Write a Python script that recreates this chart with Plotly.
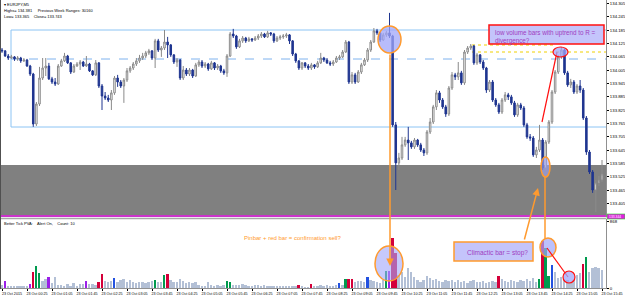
import plotly.graph_objects as go

# ---------------- data ----------------
bar_index = list(range(193))
first_open = 134.095
closes = [
    134.091, 134.068, 134.059, 134.064, 134.055, 134.059, 134.046, 134.050, 134.023, 133.987,
    133.762, 133.852, 133.969, 134.014, 134.023, 133.965, 133.951, 133.942, 134.023, 134.046,
    134.068, 134.037, 133.996, 134.023, 134.032, 134.041, 134.023, 134.032, 134.001, 133.983,
    134.037, 133.933, 133.888, 133.879, 133.870, 133.902, 133.969, 133.951, 133.933, 133.960,
    134.001, 134.014, 134.032, 134.046, 134.059, 134.068, 134.082, 134.091, 134.059, 134.136,
    134.095, 134.104, 134.131, 134.118, 134.073, 134.041, 134.050, 133.969, 134.005, 133.987,
    134.005, 133.978, 134.028, 134.041, 134.023, 134.032, 134.010, 134.037, 134.014, 134.023,
    134.001, 133.992, 134.068, 134.167, 134.158, 134.109, 134.136, 134.149, 134.136, 134.145,
    134.140, 134.149, 134.158, 134.167, 134.154, 134.172, 134.167, 134.136, 134.149, 134.154,
    134.158, 134.163, 134.136, 134.077, 134.046, 134.014, 134.037, 134.023, 134.014, 134.028,
    134.019, 134.037, 134.059, 134.050, 134.037, 134.032, 134.041, 134.059, 134.064, 134.086,
    134.131, 133.951, 133.983, 133.951, 133.996, 134.028, 134.050, 134.095, 134.131, 134.181,
    134.172, 134.140, 134.163, 134.172, 134.158, 133.758, 133.587, 133.609, 133.668, 133.690,
    133.677, 133.659, 133.690, 133.668, 133.645, 133.632, 133.726, 133.771, 133.839, 133.902,
    133.870, 133.839, 133.807, 133.924, 133.983, 133.974, 133.992, 133.947, 134.086, 134.104,
    134.113, 134.037, 134.073, 134.041, 134.014, 133.915, 133.951, 133.870, 133.848, 133.816,
    133.870, 133.893, 133.884, 133.857, 133.803, 133.848, 133.834, 133.758, 133.704, 133.699,
    133.623, 133.645, 133.690, 133.564, 133.681, 133.771, 133.906, 133.996, 134.064, 134.095,
    133.992, 133.938, 133.951, 133.906, 133.933, 133.915, 133.789, 133.636, 133.546, 133.465,
    133.497, 133.510, 133.537,
]
highs = [
    134.104, 134.095, 134.077, 134.073, 134.068, 134.068, 134.064, 134.059, 134.055, 134.028,
    133.992, 133.861, 134.019, 134.059, 134.059, 134.037, 133.974, 133.969, 134.032, 134.055,
    134.082, 134.073, 134.041, 134.032, 134.041, 134.050, 134.046, 134.068, 134.037, 134.005,
    134.050, 134.041, 133.942, 133.906, 133.893, 133.915, 133.978, 133.983, 133.960, 133.969,
    134.014, 134.023, 134.041, 134.059, 134.073, 134.082, 134.091, 134.100, 134.095, 134.145,
    134.145, 134.113, 134.185, 134.154, 134.122, 134.077, 134.059, 134.055, 134.023, 134.014,
    134.014, 134.010, 134.037, 134.050, 134.050, 134.041, 134.037, 134.046, 134.041, 134.032,
    134.028, 134.010, 134.077, 134.176, 134.190, 134.163, 134.145, 134.158, 134.154, 134.154,
    134.149, 134.158, 134.167, 134.176, 134.172, 134.181, 134.176, 134.172, 134.158, 134.163,
    134.167, 134.172, 134.167, 134.140, 134.082, 134.050, 134.041, 134.041, 134.032, 134.037,
    134.032, 134.046, 134.082, 134.064, 134.059, 134.046, 134.050, 134.068, 134.073, 134.095,
    134.140, 134.136, 133.996, 133.992, 134.005, 134.037, 134.059, 134.104, 134.140, 134.194,
    134.190, 134.176, 134.172, 134.181, 134.262, 134.163, 133.771, 133.632, 133.704, 133.704,
    133.749, 133.686, 133.699, 133.695, 133.677, 133.654, 133.735, 133.789, 133.848, 133.915,
    133.911, 133.879, 133.848, 133.933, 133.996, 133.992, 134.041, 134.001, 134.095, 134.113,
    134.122, 134.118, 134.082, 134.077, 134.050, 134.019, 133.960, 133.960, 133.879, 133.857,
    133.879, 133.906, 133.902, 133.893, 133.866, 133.857, 133.857, 133.843, 133.767, 133.717,
    133.708, 133.659, 133.758, 133.699, 133.690, 133.780, 133.915, 134.005, 134.073, 134.109,
    134.100, 134.001, 133.965, 133.960, 133.942, 133.960, 133.924, 133.798, 133.645, 133.555,
    133.510, 133.528, 133.600,
]
lows = [
    134.082, 134.064, 134.050, 134.055, 134.046, 134.046, 134.037, 134.041, 134.019, 133.978,
    133.749, 133.753, 133.843, 133.960, 133.978, 133.960, 133.942, 133.933, 133.938, 134.019,
    134.041, 134.032, 133.987, 133.992, 134.019, 134.005, 134.019, 134.019, 133.996, 133.978,
    133.978, 133.924, 133.825, 133.870, 133.861, 133.825, 133.893, 133.929, 133.924, 133.857,
    133.951, 133.992, 134.005, 134.023, 134.037, 134.050, 134.059, 134.073, 134.050, 134.014,
    134.086, 134.064, 134.095, 134.059, 134.064, 134.032, 134.019, 133.960, 133.960, 133.978,
    133.978, 133.969, 133.974, 134.019, 134.014, 134.014, 134.001, 134.005, 134.005, 134.005,
    133.992, 133.983, 133.974, 134.064, 134.149, 134.100, 134.104, 134.127, 134.127, 134.131,
    134.131, 134.136, 134.140, 134.149, 134.149, 134.149, 134.158, 134.127, 134.131, 134.140,
    134.145, 134.149, 134.122, 134.068, 134.037, 134.005, 134.005, 134.014, 134.005, 134.005,
    134.010, 134.014, 134.032, 134.041, 134.032, 134.023, 134.023, 134.037, 134.050, 134.059,
    134.082, 133.942, 133.942, 133.942, 133.947, 133.987, 134.023, 134.041, 134.086, 134.127,
    134.163, 134.131, 134.136, 134.154, 134.149, 133.749, 133.465, 133.555, 133.600, 133.659,
    133.600, 133.650, 133.650, 133.659, 133.636, 133.618, 133.623, 133.717, 133.762, 133.825,
    133.857, 133.830, 133.794, 133.798, 133.915, 133.960, 133.960, 133.938, 133.938, 134.077,
    134.095, 134.028, 134.028, 134.032, 134.005, 133.902, 133.906, 133.861, 133.839, 133.807,
    133.807, 133.861, 133.870, 133.848, 133.794, 133.794, 133.825, 133.749, 133.695, 133.686,
    133.614, 133.609, 133.636, 133.555, 133.555, 133.672, 133.762, 133.897, 133.987, 134.055,
    133.983, 133.929, 133.924, 133.897, 133.897, 133.902, 133.780, 133.623, 133.537, 133.452,
    133.366, 133.483, 133.501,
]
opens = [first_open] + closes[:-1]

volumes = [
    40, 95, 20, 15, 30, 20, 15, 20, 25, 56,
    205, 290, 195, 95, 115, 150, 70, 145, 45, 45,
    20, 55, 30, 70, 20, 55, 55, 95, 55, 55,
    45, 75, 185, 95, 75, 95, 130, 75, 105, 115,
    85, 100, 75, 65, 75, 85, 65, 75, 95, 110,
    85, 75, 175, 185, 105, 85, 75, 120, 95, 65,
    75, 65, 75, 45, 25, 25, 85, 45, 30, 45,
    30, 40, 90, 80, 45, 45, 45, 55, 45, 30,
    30, 45, 45, 30, 45, 30, 20, 25, 30, 15,
    20, 25, 15, 30, 15, 40, 20, 10, 10, 56,
    25, 30, 45, 30, 40, 30, 25, 35, 65, 45,
    120, 120, 120, 80, 95, 90, 85, 150, 108, 95,
    80, 70, 110, 225, 225, 660, 455, 175, 215, 150,
    260, 215, 150, 110, 85, 100, 160, 130, 110, 120,
    95, 80, 105, 90, 110, 75, 100, 85, 95, 70,
    90, 100, 75, 85, 95, 70, 80, 95, 85, 160,
    115, 90, 85, 110, 95, 80, 105, 90, 120, 95,
    130, 85, 120, 610, 520, 160, 300, 215, 130, 150,
    100, 110, 85, 110, 175, 195, 320, 400, 205, 260,
    280, 260, 240,
]
volume_class = "".join([
    "gPgggggggP", "RGGggPgggg", "gggggggPgg", "gRRgggBggg", "gggggggggG",
    "ggGRgggggg", "gggggggggg", "ggGGgggggg", "gggggggggg", "gggggRgggR",
    "ggggggggBg", "GRRggggBgg", "gggGPRRggg", "gggggggggg", "gggggggggg",
    "gggggggggR", "gggggggggg", "ggGRGGBggg", "ggggggRGgg", "ggg",
])
time_ticks = ["23 Oct 2015", "23 Oct 00:25", "23 Oct 01:05", "23 Oct 01:45", "23 Oct 02:25",
              "23 Oct 03:05", "23 Oct 03:45", "23 Oct 04:25", "23 Oct 05:05", "23 Oct 05:45",
              "23 Oct 06:25", "23 Oct 07:05", "23 Oct 07:45", "23 Oct 08:25", "23 Oct 09:05",
              "23 Oct 09:45", "23 Oct 10:25", "23 Oct 11:05", "23 Oct 11:45", "23 Oct 12:25",
              "23 Oct 13:05", "23 Oct 13:45", "23 Oct 14:25", "23 Oct 15:05", "23 Oct 15:45"]
price_ticks = [133.405, 133.465, 133.525, 133.585, 133.645, 133.705, 133.765, 133.825,
               133.885, 133.945, 134.005, 134.065, 134.125, 134.185, 134.245, 134.305]
volume_ticks = [0, 868]

# ---------------- layout helpers ----------------
W, H = 625, 296
PLOT_R = 606


def px(x):
    return x / W


def py(y):
    return 1 - y / H


class_colors = {"g": "#b3c0d6", "G": "#009a4e", "R": "#d4003a", "P": "#9b1fe8", "B": "#2251e0"}
bar_colors = [class_colors[c] for c in volume_class]

fig = go.Figure()
fig.add_trace(go.Candlestick(
    x=bar_index, open=opens, high=highs, low=lows, close=closes,
    increasing=dict(fillcolor="#ffffff", line=dict(color="#8a8a8a", width=1)),
    decreasing=dict(fillcolor="#1f3590", line=dict(color="#1f3590", width=1)),
    whiskerwidth=0, showlegend=False, hoverinfo="skip", xaxis="x", yaxis="y",
))
fig.add_trace(go.Bar(
    x=bar_index, y=volumes, marker=dict(color=bar_colors, line=dict(width=0)),
    width=0.62, showlegend=False, hoverinfo="skip", xaxis="x2", yaxis="y2",
))

shapes = []


def add_rect(x0, y0, x1, y1, layer="above", **kw):
    shapes.append(dict(type="rect", xref="paper", yref="paper", x0=px(x0), x1=px(x1),
                       y0=py(y1), y1=py(y0), layer=layer, **kw))


def add_ellipse(x0, y0, x1, y1, **kw):
    shapes.append(dict(type="circle", xref="paper", yref="paper", x0=px(x0), x1=px(x1),
                       y0=py(y1), y1=py(y0), layer="above", **kw))


def add_line(x0, y0, x1, y1, layer="above", **kw):
    shapes.append(dict(type="line", xref="paper", yref="paper", x0=px(x0), x1=px(x1),
                       y0=py(y0), y1=py(y1), layer=layer, **kw))


# zones & levels
add_rect(0, 165, PLOT_R, 215, layer="below", fillcolor="#808080", line=dict(width=0))
add_line(0, 216, PLOT_R, 216, line=dict(color="#cc33cc", width=2))
add_line(0, 218.5, PLOT_R, 218.5, line=dict(color="#a8a8a8", width=1.5))
add_line(11, 30, PLOT_R, 30, layer="below", line=dict(color="#8cc4f4", width=1))
add_line(11, 127, PLOT_R, 127, layer="below", line=dict(color="#8cc4f4", width=1))
add_line(11, 30, 11, 127, layer="below", line=dict(color="#8cc4f4", width=1))
add_line(11, 59, PLOT_R, 59, layer="below", line=dict(color="#7fb2ee", width=1, dash="dash"))
add_line(472, 45, 555, 45, layer="below", line=dict(color="#f0d000", width=1, dash="dot"))
add_line(472, 52, PLOT_R, 52, layer="below", line=dict(color="#f0d000", width=1, dash="dot"))
add_line(0.5, 0, 0.5, 289, line=dict(color="#505050", width=1))

lav = "rgba(160,165,250,0.75)"
orange = "#ff9a2e"
# orange marks
add_ellipse(378, 26, 401, 53, fillcolor=lav, line=dict(color=orange, width=1.5))
add_ellipse(375, 246, 403, 281, fillcolor="rgba(160,165,250,0.6)", line=dict(color=orange, width=1.5))
add_ellipse(541, 157, 550, 177, fillcolor="rgba(160,165,250,0.6)", line=dict(color=orange, width=1.5))
add_line(545, 177, 545, 238, line=dict(color=orange, width=1.5))
add_ellipse(540, 238, 556, 257, fillcolor="rgba(160,165,250,0.7)", line=dict(color=orange, width=1.5))
add_rect(454, 242, 533, 261, fillcolor="#c4c4fb", line=dict(color=orange, width=1.5))
# red marks
add_line(542, 122, 557, 52, line=dict(color="#ff1010", width=1.2))
add_ellipse(553, 47, 568, 57, fillcolor=lav, line=dict(color="#ff1010", width=1.2))
add_rect(489, 25, 604, 44, fillcolor="#c4c4fb", line=dict(color="#ff1010", width=1.5))
add_line(547, 248, 568, 277, line=dict(color="#ff1010", width=1.2))
add_ellipse(563, 271, 575, 283, fillcolor=lav, line=dict(color="#ff1010", width=1.2))
# magenta price tag on axis
add_rect(607, 214, 625, 219, fillcolor="#e020e0", line=dict(color="#20e020", width=0.6))

purple = "#a03cc0"
small = dict(family="Liberation Sans", size=4, color="#000000")
annotations = [
    dict(x=px(3), y=py(1), text="▾ EURJPY,M5", font=small),
    dict(x=px(3), y=py(7), text="Highs= 134.381     Previous Week Ranges: 30160", font=small),
    dict(x=px(3), y=py(13), text="Low= 133.365    Close= 133.743", font=small),
    dict(x=px(3), y=py(220), text="Better Tick PVA:    Alert On,    Count: 10", font=small),
    dict(x=px(243), y=py(234), text="Pinbar + red bar = confirmation sell?",
         font=dict(family="Liberation Sans", size=6, color=orange)),
    dict(x=px(466), y=py(248), text="Climactic bar = stop?",
         font=dict(family="Liberation Sans", size=6.5, color=purple)),
    dict(x=px(494), y=py(28), text="low volume bars with uptrend to R =<br>divergence?",
         font=dict(family="Liberation Sans", size=6.3, color=purple)),
]
for a in annotations:
    a.update(xref="paper", yref="paper", xanchor="left", yanchor="top", showarrow=False,
             align="left", borderpad=0)
annotations.append(dict(xref="paper", yref="paper", x=px(608), y=py(216.5), text="133.344",
                        xanchor="left", yanchor="middle", showarrow=False, borderpad=0,
                        font=dict(family="Liberation Sans", size=3.4, color="#ffffff")))

# arrows (head position, tail offset in pixels)
annotations.append(dict(xref="paper", yref="paper", x=px(390), y=py(266), ax=0, ay=-213,
                        showarrow=True, arrowhead=2, arrowsize=1, arrowwidth=1.5,
                        arrowcolor=orange, text=""))
annotations.append(dict(xref="paper", yref="paper", x=px(538), y=py(188), ax=-14, ay=53,
                        showarrow=True, arrowhead=2, arrowsize=1, arrowwidth=1.5,
                        arrowcolor=orange, text=""))

x_lo = -0.64
x_hi = (PLOT_R - 2) / 3.125
axfont = dict(family="Liberation Sans", size=4.3, color="#000000")
xfont = dict(family="Liberation Sans", size=3.7, color="#000000")

fig.update_layout(
    width=W, height=H, margin=dict(l=0, r=0, t=0, b=0, autoexpand=False),
    paper_bgcolor="#ffffff", plot_bgcolor="#ffffff",
    showlegend=False, hovermode=False, bargap=0,
    shapes=shapes, annotations=annotations,
    xaxis=dict(domain=[0, PLOT_R / W], range=[x_lo, x_hi], anchor="y",
               showticklabels=False, showgrid=False, zeroline=False,
               rangeslider=dict(visible=False), fixedrange=True),
    xaxis2=dict(domain=[0, PLOT_R / W], range=[x_lo, x_hi], anchor="y2", matches="x",
                tickvals=bar_index[::8], ticktext=time_ticks, tickfont=xfont, tickangle=0,
                ticks="outside", ticklen=2, tickcolor="#000000", ticklabelshift=10,
                ticklabelstandoff=0, automargin=False,
                showgrid=False, zeroline=False, showline=True, linecolor="#909090", linewidth=1),
    yaxis=dict(domain=[py(217), 1], range=[133.3435, 134.32], anchor="x", side="right",
               tickvals=price_ticks, ticktext=[f"{v:.3f}" for v in price_ticks], tickfont=axfont,
               ticks="outside", ticklen=2, tickcolor="#000000", automargin=False,
               showgrid=False, zeroline=False, showline=True, linecolor="#909090", linewidth=1),
    yaxis2=dict(domain=[py(288), py(219)], range=[0, 904], anchor="x2", side="right",
                tickvals=volume_ticks, ticktext=[str(v) for v in volume_ticks], tickfont=axfont,
                ticks="outside", ticklen=2, tickcolor="#000000", automargin=False,
                showgrid=False, zeroline=False, showline=True, linecolor="#909090", linewidth=1),
)

fig.write_html("out.html")
